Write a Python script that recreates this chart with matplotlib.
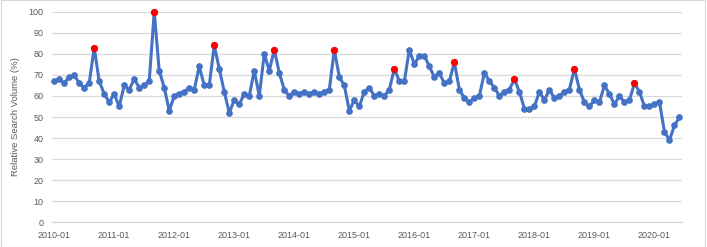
import matplotlib
matplotlib.use("Agg")
import matplotlib.pyplot as plt
from matplotlib.patches import Rectangle

plt.rcParams['font.family'] = ['Liberation Sans', 'DejaVu Sans']

# Monthly dates 2010-01 .. 2020-06
years = list(range(2010, 2021))
dates = [f"{y}-{m:02d}" for y in years for m in range(1, 13)][:126]

values = [
    # 2010
    67, 68, 66, 69, 70, 66, 64, 66, 83, 67, 61, 57,
    # 2011
    61, 55, 65, 63, 68, 64, 65, 67, 100, 72, 64, 53,
    # 2012
    60, 61, 62, 64, 63, 74, 65, 65, 84, 73, 62, 52,
    # 2013
    58, 56, 61, 60, 72, 60, 80, 72, 82, 71, 63, 60,
    # 2014
    62, 61, 62, 61, 62, 61, 62, 63, 82, 69, 65, 53,
    # 2015
    58, 55, 62, 64, 60, 61, 60, 63, 73, 67, 67, 82,
    # 2016
    75, 79, 79, 74, 69, 71, 66, 67, 76, 63, 59, 57,
    # 2017
    59, 60, 71, 67, 64, 60, 62, 63, 68, 62, 54, 54,
    # 2018
    55, 62, 58, 63, 59, 60, 62, 63, 73, 63, 57, 55,
    # 2019
    58, 57, 65, 61, 56, 60, 57, 58, 66, 62, 55, 55,
    # 2020
    56, 57, 43, 39, 46, 50,
]

highlight_dates = ["2010-09", "2011-09", "2012-09", "2013-09", "2014-09",
                   "2015-09", "2016-09", "2017-09", "2018-09", "2019-09"]

tick_labels = [f"{y}-01" for y in years]

blue = "#4472C4"
grid_c = "#D9D9D9"
text_c = "#595959"

fig = plt.figure(figsize=(7.07, 2.47), dpi=100)
ax = fig.add_axes([0.0731, 0.1000, 0.8915, 0.8526])

x = list(range(len(dates)))
ax.plot(x, values, color=blue, lw=2.2, marker='o', markersize=3.8,
        markerfacecolor=blue, markeredgecolor=blue, zorder=3, clip_on=False)
hx = [dates.index(d) for d in highlight_dates]
hy = [values[i] for i in hx]
ax.plot(hx, hy, linestyle='none', marker='o', markersize=4.2,
        color='#FF0000', zorder=4, clip_on=False)

ax.set_xlim(-0.5, len(dates) - 0.5)
ax.set_ylim(0, 100)
ax.set_yticks(range(0, 101, 10))
ax.set_xticks([dates.index(t) for t in tick_labels])
ax.set_xticklabels(tick_labels)
ax.tick_params(axis='both', length=0, labelsize=6.5, colors=text_c)
ax.tick_params(axis='x', pad=6)
ax.tick_params(axis='y', pad=6)
ax.grid(axis='y', color=grid_c, lw=0.9)
ax.set_axisbelow(True)
for s in ['top', 'right', 'left']:
    ax.spines[s].set_visible(False)
ax.spines['bottom'].set_color(grid_c)
ax.spines['bottom'].set_linewidth(0.9)

ax.set_ylabel("Relative Search Volume (%)", fontsize=6.8, color=text_c, labelpad=6)

fig.patches.append(Rectangle((0.001, 0.002), 0.996, 0.996, transform=fig.transFigure,
                             fill=False, edgecolor=grid_c, lw=0.8))

fig.savefig("out.png", dpi=100)
